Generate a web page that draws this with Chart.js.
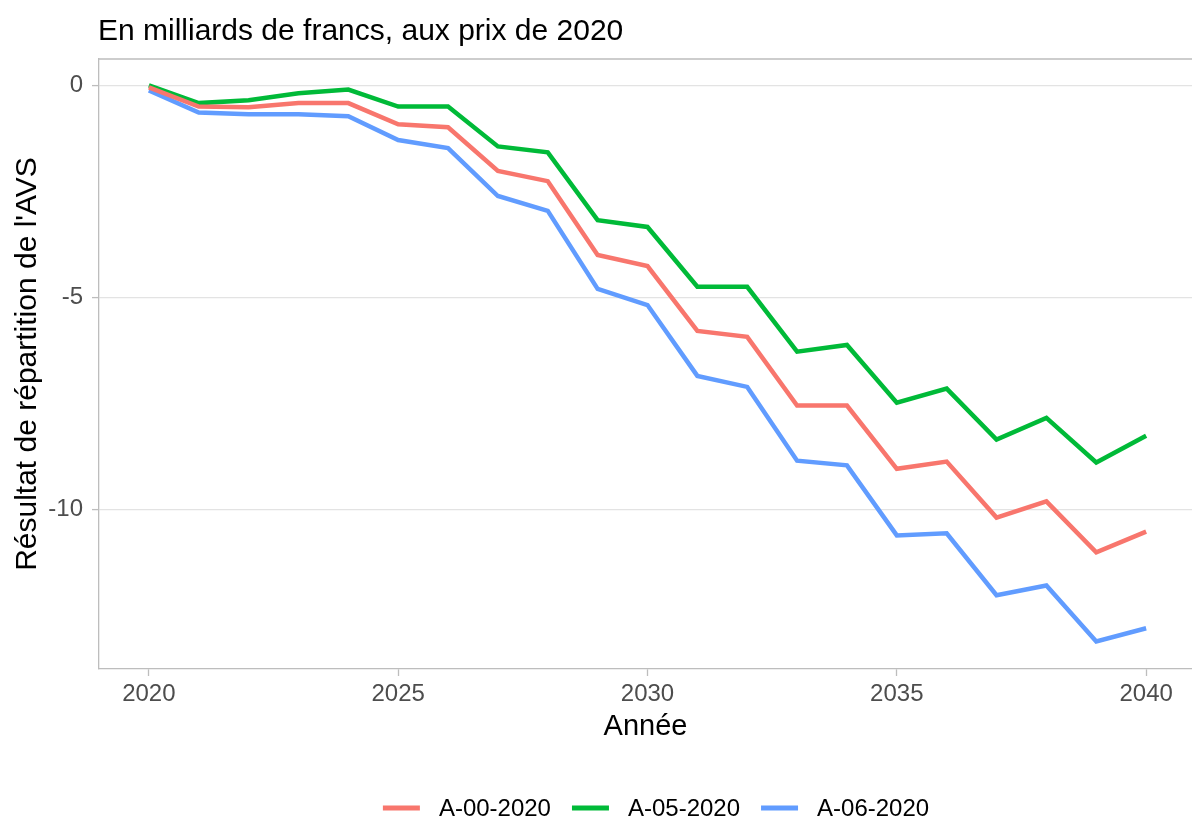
<!DOCTYPE html>
<html lang="fr">
<head>
<meta charset="utf-8">
<title>Résultat de répartition de l'AVS</title>
<script src="https://cdn.jsdelivr.net/npm/chart.js@4.4.1/dist/chart.umd.min.js"></script>
<style>
  html, body { margin: 0; padding: 0; background: #fff; overflow: hidden; }
  canvas { display: block; }
</style>
</head>
<body>
<canvas id="avs-chart" width="1192" height="819"></canvas>
<script>
// Données (milliards de francs, prix 2020)
const years = [2020, 2021, 2022, 2023, 2024, 2025, 2026, 2027, 2028, 2029, 2030,
               2031, 2032, 2033, 2034, 2035, 2036, 2037, 2038, 2039, 2040];
const a00 = [-0.05, -0.50, -0.52, -0.42, -0.42, -0.92, -0.99, -2.02, -2.26, -4.00, -4.26,
             -5.79, -5.93, -7.55, -7.55, -9.04, -8.87, -10.19, -9.81, -11.01, -10.52];
const a05 = [0.00, -0.42, -0.35, -0.19, -0.10, -0.50, -0.50, -1.44, -1.58, -3.18, -3.34,
             -4.75, -4.75, -6.28, -6.12, -7.48, -7.15, -8.35, -7.84, -8.89, -8.26];
const a06 = [-0.12, -0.64, -0.68, -0.68, -0.73, -1.29, -1.48, -2.61, -2.96, -4.80, -5.18,
             -6.85, -7.11, -8.85, -8.96, -10.61, -10.56, -12.02, -11.79, -13.11, -12.80];

const seriesNames = ['A-00-2020', 'A-05-2020', 'A-06-2020'];
const seriesColors = ['#F8766D', '#00BA38', '#619CFF'];

const xTicks = [2020, 2025, 2030, 2035, 2040];
const yTicks = [0, -5, -10];

const titleText = 'En milliards de francs, aux prix de 2020';
const xTitle = 'Année';
const yTitle = "Résultat de répartition de l'AVS";

const FONT = "'Liberation Sans', Arial, sans-serif";
const BORDER = '#bdbdbd';

// Titre en haut à gauche, aligné sur le panneau
const titlePlugin = {
  id: 'plotTitle',
  afterDraw(chart) {
    const ctx = chart.ctx;
    ctx.save();
    ctx.font = '30px ' + FONT;
    ctx.fillStyle = '#000';
    ctx.textBaseline = 'alphabetic';
    ctx.fillText(titleText, chart.chartArea.left - 1, 40);
    ctx.restore();
  }
};

// Bord supérieur du panneau
const panelTopPlugin = {
  id: 'panelTop',
  beforeDatasetsDraw(chart) {
    const { ctx, chartArea } = chart;
    ctx.save();
    ctx.strokeStyle = BORDER;
    ctx.lineWidth = 1.3;
    ctx.beginPath();
    ctx.moveTo(chartArea.left, chartArea.top);
    ctx.lineTo(chartArea.right, chartArea.top);
    ctx.stroke();
    ctx.restore();
  }
};

// Légende en bas, façon ggplot
const legendPlugin = {
  id: 'bottomLegend',
  afterDraw(chart) {
    const ctx = chart.ctx;
    ctx.save();
    ctx.font = '24px ' + FONT;
    const swatch = 37;
    const gapText = 19;
    const gapItem = 21;
    const widths = seriesNames.map(n => ctx.measureText(n).width);
    const total = widths.reduce((s, w) => s + swatch + gapText + w, 0) + gapItem * (seriesNames.length - 1);
    let x = 656 - total / 2;
    const y = 808;
    seriesNames.forEach((name, i) => {
      ctx.strokeStyle = seriesColors[i];
      ctx.lineWidth = 5;
      ctx.beginPath();
      ctx.moveTo(x, y);
      ctx.lineTo(x + swatch, y);
      ctx.stroke();
      ctx.fillStyle = '#000';
      ctx.textBaseline = 'middle';
      ctx.fillText(name, x + swatch + gapText, y + 1);
      x += swatch + gapText + widths[i] + gapItem;
    });
    ctx.restore();
  }
};

const ctx = document.getElementById('avs-chart').getContext('2d');

new Chart(ctx, {
  type: 'line',
  data: {
    labels: years,
    datasets: [a00, a05, a06].map((values, i) => ({
      label: seriesNames[i],
      data: values,
      borderColor: seriesColors[i],
      backgroundColor: seriesColors[i],
      borderWidth: 4.5,
      pointRadius: 0,
      tension: 0,
      fill: false
    }))
  },
  options: {
    responsive: false,
    animation: false,
    devicePixelRatio: 1,
    layout: {
      padding: { top: 59, bottom: 60, left: 0, right: 0 }
    },
    plugins: {
      legend: { display: false },
      title: { display: false },
      tooltip: { enabled: false }
    },
    scales: {
      x: {
        type: 'linear',
        min: 2019,
        max: 2040.92,
        afterBuildTicks: scale => { scale.ticks = xTicks.map(v => ({ value: v })); },
        afterFit: scale => { scale.height = 90; },
        border: { display: true, color: BORDER, width: 1.3 },
        grid: {
          drawOnChartArea: false,
          drawTicks: true,
          tickLength: 7,
          tickColor: BORDER,
          tickWidth: 1.3
        },
        ticks: {
          autoSkip: false,
          maxRotation: 0,
          padding: 4,
          color: '#4d4d4d',
          font: { family: FONT, size: 24 },
          callback: v => String(v)
        },
        title: {
          display: true,
          text: xTitle,
          color: '#000',
          font: { family: FONT, size: 29 },
          padding: { top: 0, bottom: 15 }
        }
      },
      y: {
        min: -13.76,
        max: 0.62,
        afterBuildTicks: scale => { scale.ticks = yTicks.map(v => ({ value: v })); },
        afterFit: scale => { scale.width = 99; },
        border: { display: true, color: BORDER, width: 1.3 },
        grid: {
          color: '#e3e3e3',
          lineWidth: 1.2,
          drawTicks: true,
          tickLength: 7,
          tickColor: BORDER,
          tickWidth: 1.3
        },
        ticks: {
          padding: 9,
          color: '#4d4d4d',
          font: { family: FONT, size: 24 },
          callback: v => String(v)
        },
        title: {
          display: true,
          text: yTitle,
          color: '#000',
          font: { family: FONT, size: 30 },
          padding: { top: 10, bottom: 0 }
        }
      }
    }
  },
  plugins: [panelTopPlugin, titlePlugin, legendPlugin]
});
</script>
</body>
</html>
